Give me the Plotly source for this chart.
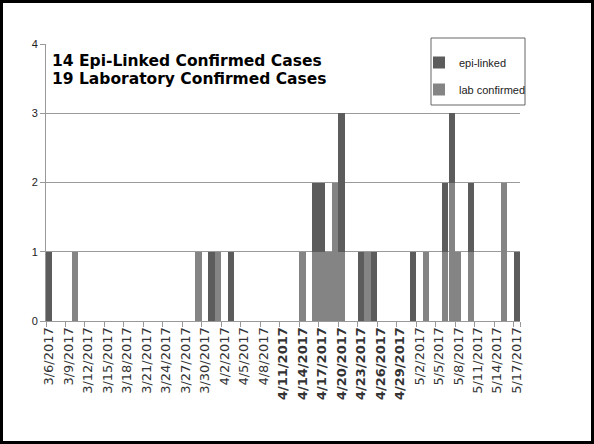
import pandas as pd
import plotly.graph_objects as go

# ---- data ----
start_date = "2017-03-06"
end_date = "2017-05-17"
case_dates = ["3/6/2017", "3/10/2017", "3/29/2017", "3/31/2017", "4/1/2017", "4/3/2017",
              "4/14/2017", "4/16/2017", "4/17/2017", "4/18/2017", "4/19/2017", "4/20/2017",
              "4/23/2017", "4/24/2017", "4/25/2017", "5/1/2017", "5/3/2017", "5/6/2017",
              "5/7/2017", "5/8/2017", "5/10/2017", "5/15/2017", "5/17/2017"]
epi_linked = [1, 0, 0, 1, 0, 1, 0, 1, 1, 0, 0, 2, 1, 0, 1, 1, 0, 1, 1, 0, 1, 0, 1]
lab_confirmed = [0, 1, 1, 0, 1, 0, 1, 1, 1, 1, 2, 1, 0, 1, 0, 0, 1, 1, 2, 1, 1, 2, 0]
tick_dates = ["3/6/2017", "3/9/2017", "3/12/2017", "3/15/2017", "3/18/2017", "3/21/2017",
              "3/24/2017", "3/27/2017", "3/30/2017", "4/2/2017", "4/5/2017", "4/8/2017",
              "4/11/2017", "4/14/2017", "4/17/2017", "4/20/2017", "4/23/2017", "4/26/2017",
              "4/29/2017", "5/2/2017", "5/5/2017", "5/8/2017", "5/11/2017", "5/14/2017",
              "5/17/2017"]
bold_ticks = ["4/11/2017", "4/14/2017", "4/17/2017", "4/20/2017", "4/23/2017",
              "4/26/2017", "4/29/2017"]
summary_lines = ["14 Epi-Linked Confirmed Cases", "19 Laboratory Confirmed Cases"]
y_ticks = [0, 1, 2, 3, 4]

all_days = [f"{d.month}/{d.day}/{d.year}" for d in pd.date_range(start_date, end_date)]
tick_text = [f"<b>{t}</b>" if t in bold_ticks else t for t in tick_dates]

# ---- geometry (pixels) ----
W, H = 594, 444
L, R, T, B = 46, 74, 44, 123
pw, ph = W - L - R, H - T - B

def px_x(x):
    return (x - L) / pw

def px_y(y):
    return 1 - (y - T) / ph

fig = go.Figure()
fig.add_trace(go.Bar(x=case_dates, y=lab_confirmed, name="lab confirmed",
                     marker=dict(color="#848484", line=dict(width=0)),
                     legendgroup="b", legendrank=2))
fig.add_trace(go.Bar(x=case_dates, y=epi_linked, name="epi-linked",
                     marker=dict(color="#5c5c5c", line=dict(width=0)),
                     legendgroup="a", legendrank=1))

fig.update_layout(
    width=W, height=H,
    margin=dict(l=L, r=R, t=T, b=B),
    paper_bgcolor="white", plot_bgcolor="white",
    barmode="stack", bargap=0.04,
    showlegend=True,
    legend=dict(x=px_x(419), y=px_y(48), xanchor="left", yanchor="top",
                traceorder="grouped", tracegroupgap=8,
                bgcolor="rgba(0,0,0,0)", borderwidth=0,
                font=dict(family="Liberation Sans Narrow, Liberation Sans, Arial", size=11, color="#222"),
                itemwidth=30),
    xaxis=dict(type="category", categoryorder="array", categoryarray=all_days,
               range=[-0.5, len(all_days) - 0.5],
               tickmode="array", tickvals=tick_dates, ticktext=tick_text,
               tickson="boundaries", ticks="outside", ticklen=5, tickcolor="#999",
               tickangle=-90, showgrid=False, showline=True, linecolor="#999", linewidth=1,
               tickfont=dict(family="DejaVu Sans", size=13, color="#333")),
    yaxis=dict(range=[0, 4], tickvals=y_ticks, showgrid=True, gridcolor="#9a9a9a", gridwidth=1,
               zeroline=False, showline=True, linecolor="#999", linewidth=1,
               ticks="outside", ticklen=5, tickcolor="#999",
               tickfont=dict(family="Liberation Sans, Arial", size=11, color="#222")),
)

# summary text
for i, line in enumerate(summary_lines):
    fig.add_annotation(xref="paper", yref="paper", x=px_x(50), y=px_y(61 + 18 * i),
                       xanchor="left", yanchor="middle", showarrow=False,
                       text=f"<b>{line}</b>",
                       font=dict(family="DejaVu Sans", size=15.5, color="black"))

# legend box
fig.add_shape(type="rect", xref="paper", yref="paper", layer="above",
              x0=px_x(431), x1=px_x(525), y0=px_y(105), y1=px_y(38),
              line=dict(color="#666", width=1), fillcolor="white")
# outer frame
fig.add_shape(type="rect", xref="paper", yref="paper", layer="above",
              x0=px_x(1.5), x1=px_x(592.5), y0=px_y(442.5), y1=px_y(1.5),
              line=dict(color="black", width=3), fillcolor="rgba(0,0,0,0)")

fig.write_html("out.html", config={"displayModeBar": False},
               post_script="document.body.style.margin='0';document.body.style.overflow='hidden';")
